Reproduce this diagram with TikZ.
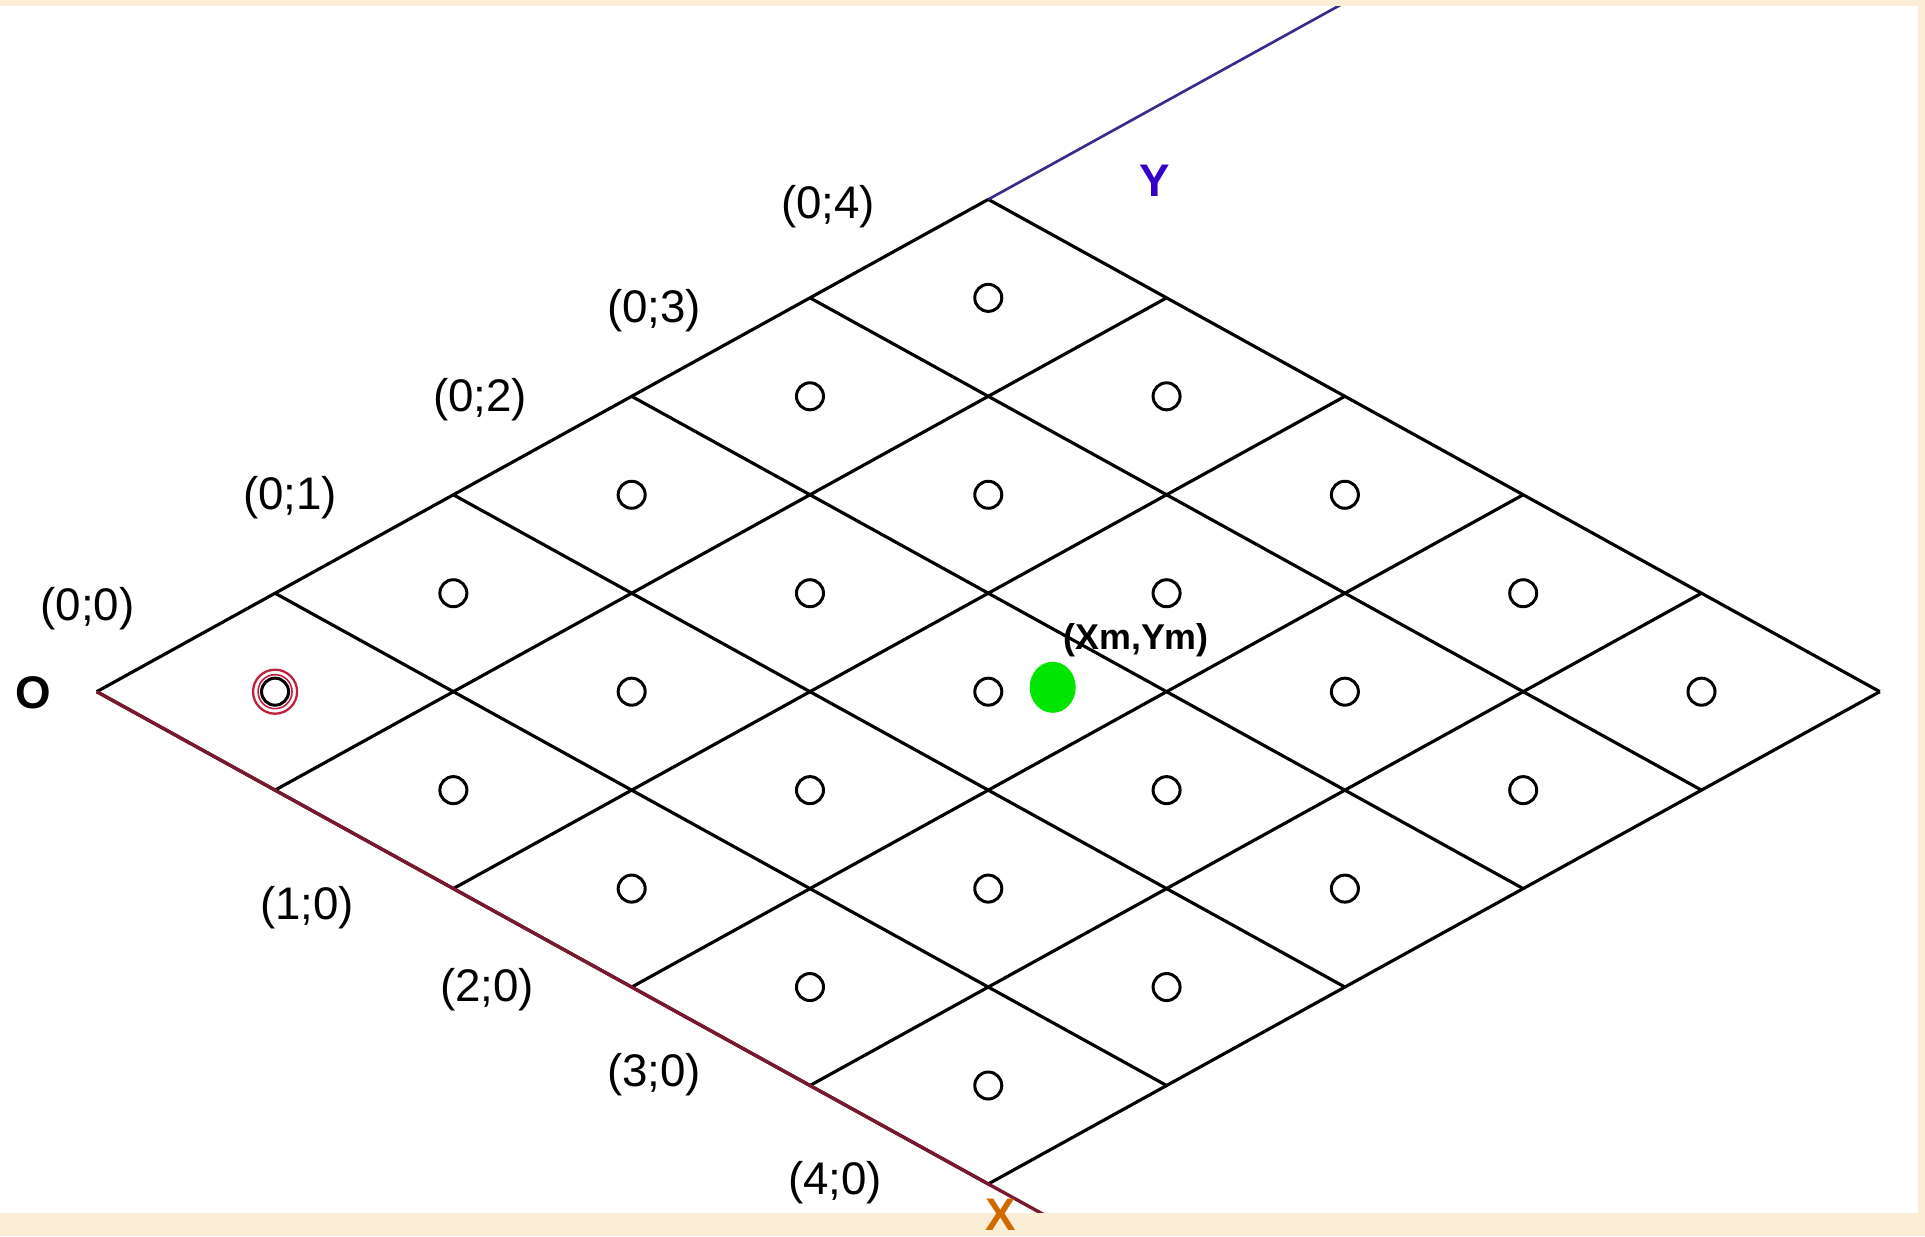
\documentclass[tikz,border=0pt]{standalone}
\usepackage{fontspec}
\setmainfont{Liberation Sans}
\usetikzlibrary{positioning,shapes.geometric}
\definecolor{paper}{HTML}{FCEED6}
\definecolor{axisx}{HTML}{7A1830}
\definecolor{axisy}{HTML}{3A2A8C}
\definecolor{lblx}{HTML}{D06A00}
\definecolor{lbly}{HTML}{3300CC}
\definecolor{mark}{HTML}{00E600}
\definecolor{ring}{HTML}{C0203A}
\tikzset{
  cellline/.style = {line width=0.9pt, black},
  dot/.style      = {circle, draw, line width=0.85pt, minimum size=2.7mm, inner sep=0pt},
  coord/.style    = {font=\fontsize{13}{15}\selectfont, inner sep=0pt},
  axlbl/.style    = {font=\fontsize{13}{15}\selectfont\bfseries, inner sep=0pt},
}

\begin{document}
\begin{tikzpicture}[x=0.01cm, y=0.01cm]
  \useasboundingbox (0,0) rectangle (1925,1236);
  \fill[white] (0,0) rectangle (1925,1236);
  % rhombic grid, 5 x 5 cells, in grid units
  \begin{scope}[shift={(0.967cm,5.44cm)}, x={(1.782cm,-0.984cm)}, y={(1.782cm,0.984cm)}]
    \coordinate (O) at (0,0);
    \coordinate (xend) at (5.35,0);
    \coordinate (ytop) at (0,5);
    \coordinate (yend) at (0,7);
    \foreach \k in {0,...,5} {
      \draw[cellline] (\k,0) -- (\k,5);
      \draw[cellline] (0,\k) -- (5,\k);
    }
    \foreach \i in {0,...,4}
      \foreach \j in {0,...,4}
        \node[dot] (c\i\j) at (\i+0.5,\j+0.5) {};
    % axes
    \draw[axisx, line width=0.95pt] (O) -- (xend);
    \draw[axisy, line width=0.75pt] (ytop) -- (yend);
  \end{scope}
  % first cell is marked
  \node[circle, draw=ring, line width=0.65pt, minimum size=4.4mm, inner sep=0pt] (r1) at (c00) {};
  \node[circle, draw=ring, line width=0.45pt, minimum size=3.4mm, inner sep=0pt] (r2) at (c00) {};
  % mean point
  \node[ellipse, fill=mark, minimum width=4.6mm, minimum height=5.1mm, inner sep=0pt] (m) at (1052.7,548.7) {};
  \node[axlbl, font=\fontsize{10.2}{12}\selectfont\bfseries] (mlbl) at (1136,596) {(Xm,Ym)};
  % page border
  \fill[paper] (0,1230) rectangle (1925,1236);
  \fill[paper] (0,0) rectangle (1925,23.3);
  \fill[paper] (1918,0) rectangle (1925,1236);
  % labels
  \node[axlbl] (olbl) at (33.5,543) {O};
  \node[axlbl, text=lbly] (ylbl) at (1155,1055.5) {Y};
  \node[axlbl, text=lblx] (xlbl) at (1001,21) {X};
  \node[coord] (l00) at (87.5,627) {(0;0)};
  \node[coord] (l01) at (290,738) {(0;1)};
  \node[coord] (l02) at (480,836) {(0;2)};
  \node[coord] (l03) at (654,925) {(0;3)};
  \node[coord] (l04) at (828,1029) {(0;4)};
  \node[coord] (l10) at (307,328) {(1;0)};
  \node[coord] (l20) at (487,246) {(2;0)};
  \node[coord] (l30) at (654,161) {(3;0)};
  \node[coord] (l40) at (835,53) {(4;0)};
\end{tikzpicture}
\end{document}
